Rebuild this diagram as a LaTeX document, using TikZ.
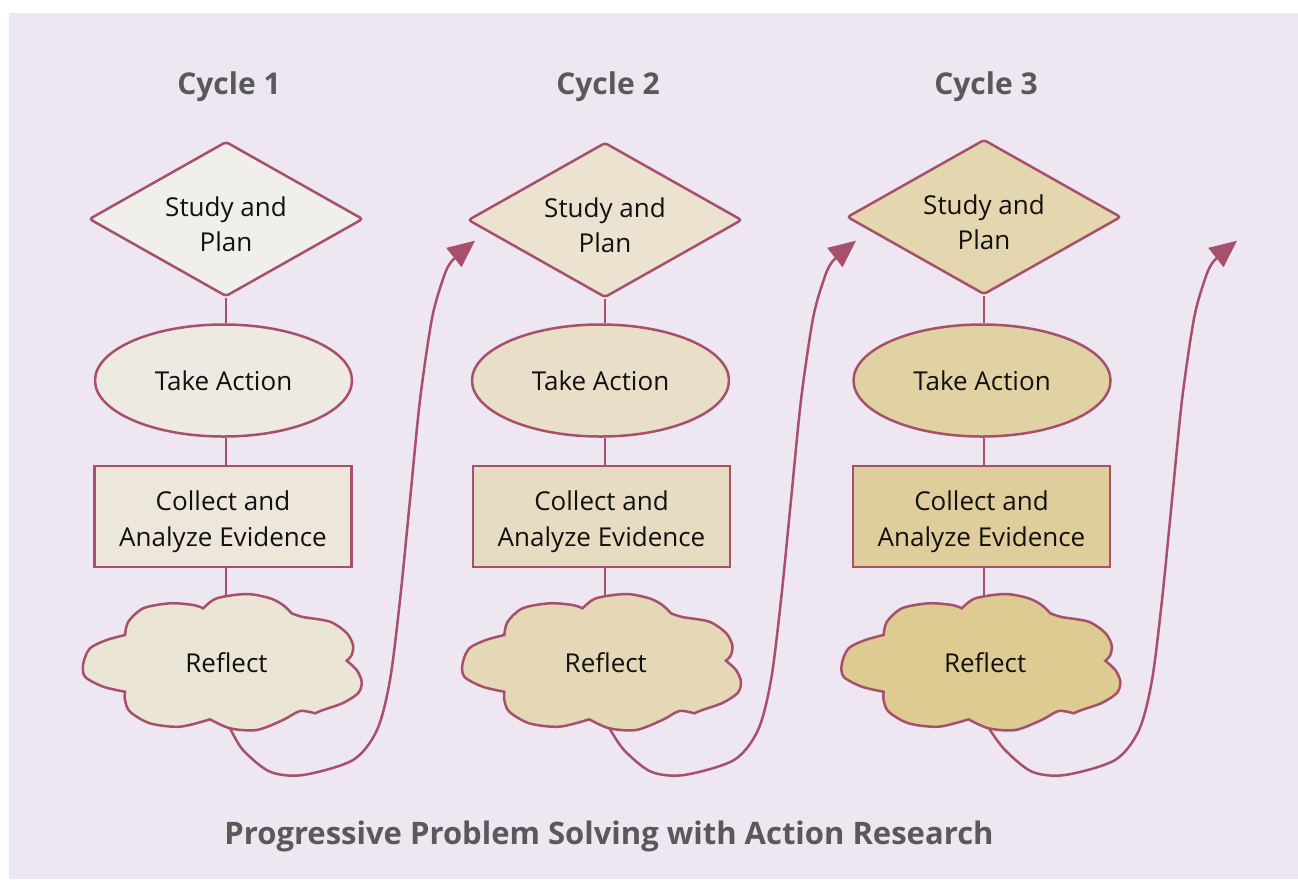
\documentclass[tikz,border=0pt]{standalone}
\usepackage{fontspec}
\setmainfont{Open Sans}
\usetikzlibrary{shapes.geometric,arrows.meta}
\definecolor{bgc}{HTML}{EEE6F1}
\definecolor{strk}{HTML}{A6506C}
\definecolor{ttl}{HTML}{595959}
\definecolor{txt}{HTML}{111111}
\definecolor{d1c}{HTML}{F0EFEC}\definecolor{e1c}{HTML}{EEE9E1}\definecolor{r1c}{HTML}{EDE7DB}\definecolor{c1c}{HTML}{EBE5D6}
\definecolor{d2c}{HTML}{EBE2D0}\definecolor{e2c}{HTML}{E9DFC9}\definecolor{r2c}{HTML}{E7DCC1}\definecolor{c2c}{HTML}{E4D8B6}
\definecolor{d3c}{HTML}{E4D6AE}\definecolor{e3c}{HTML}{E1D2A4}\definecolor{r3c}{HTML}{DFCE9B}\definecolor{c3c}{HTML}{DDCB92}
\tikzset{
  base/.style={draw=strk, line width=2.5pt, text=txt, align=center, inner sep=0pt,
    font=\fontsize{26}{36}\selectfont},
  inlbl/.style={text=txt, align=center, font=\fontsize{26}{35.5}\selectfont, yshift=-5pt},
  dia/.style={base, diamond, shape aspect=1.8, minimum width=274pt, minimum height=155pt, rounded corners=3pt},
  ell/.style={base, ellipse, minimum width=257pt, minimum height=112pt},
  box/.style={base, rectangle, minimum width=257pt, minimum height=101pt},
  cloudst/.style={draw=strk, line width=2.5pt},
  lbl/.style={text=txt, font=\fontsize{26}{36}\selectfont},
  conn/.style={draw=strk, line width=2.5pt},
  arrowst/.style={draw=strk, line width=2.5pt, -{Triangle[length=27pt,width=24pt]}},
  ctitle/.style={text=ttl, font=\bfseries\fontsize{30}{36}\selectfont, anchor=base},
}
\begin{document}
\begin{tikzpicture}[x=1pt,y=-1pt]
\useasboundingbox (0,0) rectangle (1298,879);
\fill[bgc] (9,13) rectangle (1298,879);
\foreach \i/\tx/\dx/\dy/\ex/\rx/\cx/\ax in {1/229/226/219/223.5/223/222.5/0, 2/608/605/220/600.5/601.5/601.8/381, 3/986/984/217/982/981.5/981.1/762}{
  \node[ctitle] (t\i) at (\tx,94) {Cycle \i};
  \node[dia, fill=d\i c, label={[inlbl]center:{Study and\\Plan}}] (d\i) at (\dx,\dy) {};
  \node[ell, fill=e\i c] (e\i) at (\ex,380.5) {Take Action};
  \node[box, fill=r\i c, label={[inlbl]center:{Collect and\\Analyze Evidence}}] (r\i) at (\rx,516.5) {};
  \begin{scope}[shift={(\cx,663)}]
    \filldraw[cloudst, fill=c\i c]
      plot[smooth] coordinates {(-19.2,-54.7) (-5.8,-64.7) (24.2,-69) (47.5,-64.7) (60.5,-58) (69.2,-49.7)}
      -- plot[smooth] coordinates {(69.2,-49.7) (80.5,-46) (107.5,-41.3) (124.2,-30) (130.5,-18) (129.2,-8) (124.2,-2.3)}
      -- plot[smooth] coordinates {(124.2,-2.3) (134.2,7) (139.2,18.7) (135.8,30) (120.5,40) (100.5,47) (92.5,50.3)}
      -- plot[smooth] coordinates {(92.5,50.3) (77.5,48) (60.5,57) (34.2,67) (7.5,65.3) (-12.5,56.3)}
      -- plot[smooth] coordinates {(-12.5,56.3) (-42.5,63.7) (-72.5,60.3) (-92.5,48.7) (-97.5,37) (-97.5,28.7)}
      -- plot[smooth] coordinates {(-97.5,28.7) (-119.2,23.7) (-137.5,13.7) (-139.2,0.3) (-132.5,-14.7) (-115.8,-23) (-97.5,-28)}
      -- plot[smooth] coordinates {(-97.5,-28) (-94.2,-41.3) (-79.2,-54.7) (-52.5,-59.7) (-29.2,-58) (-19.2,-54.7)}
      -- cycle;
  \end{scope}
  \node[lbl] (c\i) at (\cx+4,663) {Reflect};
  \coordinate (ctop\i) at (\cx+4.5,596);
  \coordinate (cbot\i) at (\cx+7.5,728);
  \coordinate (tip\i) at (\ax+475,240.7);
  \draw[conn] (d\i.south) -- (d\i.south |- e\i.north);
  \draw[conn] (d\i.south |- e\i.south) -- (d\i.south |- r\i.north);
  \draw[conn] (d\i.south |- r\i.south) -- (d\i.south |- ctop\i);
  \draw[arrowst] plot[smooth] coordinates {(cbot\i) (\ax+243,750) (\ax+270,771.7) (\ax+303,775) (\ax+353,760) (\ax+377,730) (\ax+390,680) (\ax+400,600) (\ax+410,500) (\ax+420,400) (\ax+431.7,320) (\ax+441.7,283) (\ax+451,262) (tip\i)};
}
\node[text=ttl, font=\bfseries\fontsize{31}{36}\selectfont, anchor=base] (title) at (609,844) {Progressive Problem Solving with Action Research};
\end{tikzpicture}
\end{document}
